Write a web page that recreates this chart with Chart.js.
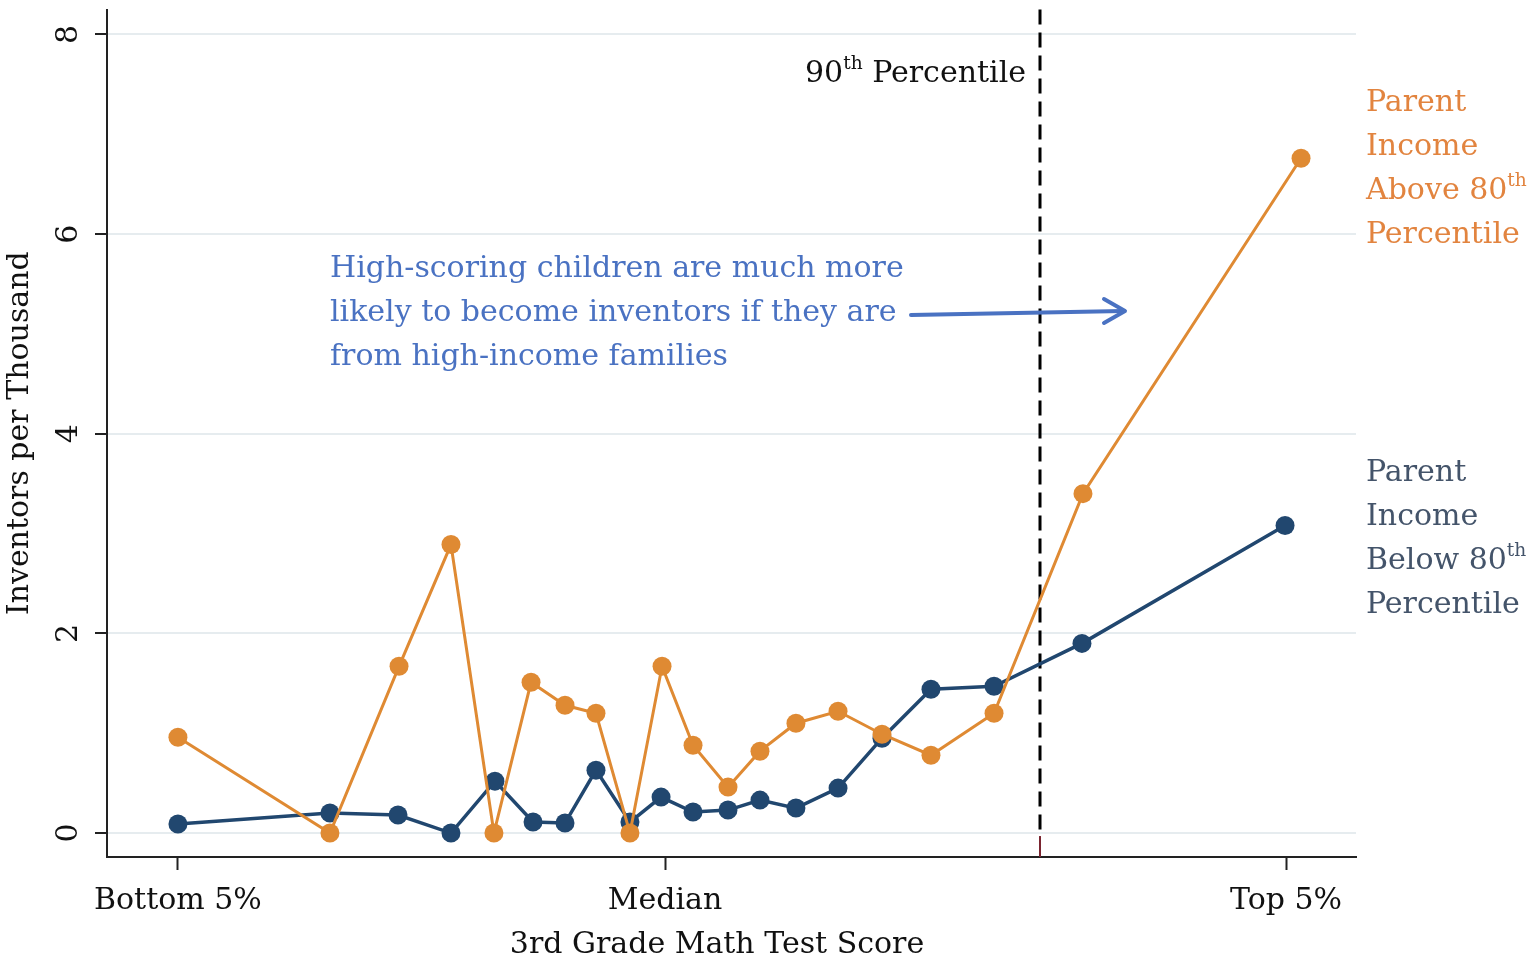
<!DOCTYPE html>
<html>
<head>
<meta charset="utf-8">
<script src="https://cdn.jsdelivr.net/npm/chart.js@4.4.1/dist/chart.umd.min.js"></script>
<style>
  html, body { margin: 0; padding: 0; background: #fff; }
  #wrap { width: 1537px; height: 962px; }
</style>
</head>
<body>
<div id="wrap"><canvas id="chart"></canvas></div>
<script>
// values (x = position on the test score axis, 0..100)
const aboveX = [5.68, 17.85, 23.38, 27.54, 30.98, 33.95, 36.67, 39.15, 41.87, 44.44, 46.92, 49.72, 52.28, 55.16, 58.53, 62.05, 65.97, 71.02, 78.14, 95.6];
const aboveY = [0.96, 0.0, 1.67, 2.89, 0.0, 1.51, 1.28, 1.20, 0.0, 1.67, 0.88, 0.46, 0.82, 1.10, 1.22, 0.99, 0.78, 1.20, 3.40, 6.76];
const belowX = [5.68, 17.85, 23.3, 27.54, 31.06, 34.11, 36.67, 39.15, 41.87, 44.36, 46.92, 49.72, 52.28, 55.16, 58.53, 62.05, 65.97, 71.02, 78.06, 94.32];
const belowY = [0.09, 0.20, 0.18, 0.0, 0.52, 0.11, 0.10, 0.63, 0.11, 0.36, 0.21, 0.23, 0.33, 0.25, 0.45, 0.95, 1.44, 1.47, 1.90, 3.08];

const xTickValues = [5.68, 44.68, 94.4];
const xTickLabels = ['Bottom 5%', 'Median', 'Top 5%'];
const yTickValues = [0, 2, 4, 6, 8];
const percentile90 = 74.7;

const ORANGE = '#DF8A33';
const NAVY = '#21476F';
const FONT = '"DejaVu Serif", serif';
const SIZE = 30;

function pairs(xs, ys) {
  return xs.map((x, i) => ({ x: x, y: ys[i] }));
}

// draws text where parts marked sup are raised and smaller
function richText(ctx, parts, x, y, size, color, align) {
  ctx.save();
  ctx.fillStyle = color;
  ctx.textBaseline = 'middle';
  ctx.textAlign = 'left';
  let total = 0;
  parts.forEach(p => {
    ctx.font = (p.sup ? size * 0.62 : size) + 'px ' + FONT;
    total += ctx.measureText(p.t).width;
  });
  let cx = x;
  if (align === 'right') cx = x - total;
  if (align === 'center') cx = x - total / 2;
  parts.forEach(p => {
    ctx.font = (p.sup ? size * 0.62 : size) + 'px ' + FONT;
    ctx.fillText(p.t, cx, p.sup ? y - size * 0.32 : y);
    cx += ctx.measureText(p.t).width;
  });
  ctx.restore();
}

const overlay = {
  id: 'overlay',
  beforeDatasetsDraw(chart) {
    const ctx = chart.ctx;
    const xs = chart.scales.x, ys = chart.scales.y;
    const px = xs.getPixelForValue(percentile90);
    const y0 = ys.getPixelForValue(0);
    ctx.save();
    ctx.strokeStyle = '#000';
    ctx.lineWidth = 3;
    ctx.setLineDash([15, 8]);
    ctx.beginPath();
    ctx.moveTo(px, chart.chartArea.top);
    ctx.lineTo(px, y0);
    ctx.stroke();
    ctx.setLineDash([]);
    ctx.strokeStyle = '#7a2430';
    ctx.lineWidth = 2;
    ctx.beginPath();
    ctx.moveTo(px, y0 + 3);
    ctx.lineTo(px, chart.chartArea.bottom);
    ctx.stroke();
    ctx.restore();
  },
  afterDraw(chart) {
    const ctx = chart.ctx;
    const ys = chart.scales.y;
    const lh = 44;

    // rotated y tick labels
    ctx.save();
    ctx.fillStyle = '#111';
    ctx.font = SIZE + 'px ' + FONT;
    ctx.textAlign = 'center';
    ctx.textBaseline = 'middle';
    yTickValues.forEach(v => {
      ctx.save();
      ctx.translate(69, ys.getPixelForValue(v));
      ctx.rotate(-Math.PI / 2);
      ctx.fillText(String(v), 0, 0);
      ctx.restore();
    });
    ctx.restore();

    richText(ctx, [{ t: '3rd Grade Math Test Score' }], 717, 945, SIZE, '#111', 'center');

    richText(ctx, [{ t: '90' }, { t: 'th', sup: true }, { t: ' Percentile' }], 1026, 74, SIZE, '#111', 'right');

    const orangeText = '#E2843F';
    const slate = '#44546A';
    richText(ctx, [{ t: 'Parent' }], 1366, 103, SIZE, orangeText);
    richText(ctx, [{ t: 'Income' }], 1366, 103 + lh, SIZE, orangeText);
    richText(ctx, [{ t: 'Above 80' }, { t: 'th', sup: true }], 1366, 103 + 2 * lh, SIZE, orangeText);
    richText(ctx, [{ t: 'Percentile' }], 1366, 103 + 3 * lh, SIZE, orangeText);

    richText(ctx, [{ t: 'Parent' }], 1366, 473, SIZE, slate);
    richText(ctx, [{ t: 'Income' }], 1366, 473 + lh, SIZE, slate);
    richText(ctx, [{ t: 'Below 80' }, { t: 'th', sup: true }], 1366, 473 + 2 * lh, SIZE, slate);
    richText(ctx, [{ t: 'Percentile' }], 1366, 473 + 3 * lh, SIZE, slate);

    const blue = '#4A72C2';
    richText(ctx, [{ t: 'High-scoring children are much more' }], 330, 269, SIZE, blue);
    richText(ctx, [{ t: 'likely to become inventors if they are' }], 330, 313, SIZE, blue);
    richText(ctx, [{ t: 'from high-income families' }], 330, 357, SIZE, blue);

    // arrow
    ctx.save();
    ctx.strokeStyle = blue;
    ctx.lineWidth = 4;
    ctx.lineCap = 'round';
    ctx.lineJoin = 'round';
    ctx.beginPath();
    ctx.moveTo(911, 315);
    ctx.lineTo(1123, 311);
    ctx.stroke();
    ctx.beginPath();
    ctx.moveTo(1104, 299);
    ctx.lineTo(1125, 311);
    ctx.lineTo(1104, 323);
    ctx.stroke();
    ctx.restore();
  }
};

new Chart(document.getElementById('chart'), {
  type: 'line',
  data: {
    datasets: [
      {
        label: 'Parent Income Above 80th Percentile',
        data: pairs(aboveX, aboveY),
        borderColor: ORANGE,
        backgroundColor: ORANGE,
        borderWidth: 3,
        pointRadius: 9.5,
        pointBorderWidth: 0,
        tension: 0
      },
      {
        label: 'Parent Income Below 80th Percentile',
        data: pairs(belowX, belowY),
        borderColor: NAVY,
        backgroundColor: NAVY,
        borderWidth: 3.5,
        pointRadius: 9.5,
        pointBorderWidth: 0,
        tension: 0
      }
    ]
  },
  options: {
    responsive: true,
    maintainAspectRatio: false,
    animation: false,
    devicePixelRatio: 1,
    layout: { padding: { left: 0, right: 181, top: 2, bottom: 0 } },
    plugins: {
      legend: { display: false },
      tooltip: { enabled: false }
    },
    scales: {
      x: {
        type: 'linear',
        min: 0,
        max: 100,
        afterBuildTicks: s => { s.ticks = xTickValues.map(v => ({ value: v })); },
        afterFit: s => { s.height = 105; },
        ticks: {
          autoSkip: false,
          maxRotation: 0,
          padding: 13,
          color: '#111',
          font: { family: FONT, size: SIZE },
          callback: (v) => xTickLabels[xTickValues.indexOf(v)]
        },
        grid: {
          drawOnChartArea: false,
          drawTicks: true,
          tickLength: 13,
          tickColor: '#222',
          tickWidth: 2
        },
        border: { display: true, color: '#222', width: 2 }
      },
      y: {
        type: 'linear',
        min: -0.24,
        max: 8.25,
        afterBuildTicks: s => { s.ticks = yTickValues.map(v => ({ value: v })); },
        afterFit: s => { s.width = 107; },
        ticks: { display: false },
        grid: {
          color: '#E6ECEF',
          lineWidth: 2,
          drawTicks: true,
          tickLength: 12,
          tickColor: '#222',
          tickWidth: 2
        },
        border: { display: true, color: '#222', width: 2 },
        title: {
          display: true,
          text: 'Inventors per Thousand',
          color: '#111',
          font: { family: FONT, size: SIZE },
          padding: { top: 2, bottom: 0 }
        }
      }
    }
  },
  plugins: [overlay]
});
</script>
</body>
</html>
